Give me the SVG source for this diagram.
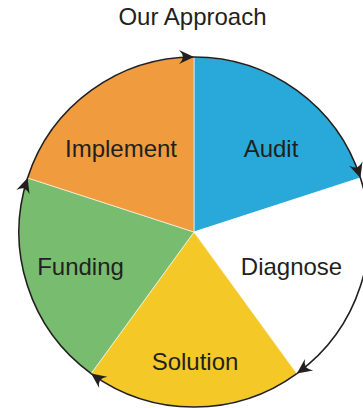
<svg xmlns="http://www.w3.org/2000/svg" width="363" height="408" viewBox="0 0 363 408">
  <style>
    .lbl { font-family: "Liberation Sans", Arial, Helvetica, sans-serif; font-size: 24px; fill: #231f20; text-anchor: middle; }
    .wedge { stroke: #ffffff; stroke-width: 0.6; }
    .ring { fill: none; stroke: #231f20; stroke-width: 1.6; marker-end: url(#arrow); }
  </style>
  <defs>
    <marker id="arrow" markerUnits="userSpaceOnUse" markerWidth="17" markerHeight="15" refX="15" refY="7" orient="auto" overflow="visible">
      <path d="M15,7 L0,0 Q3.5,3.5 4,7 Q3.5,10.5 0,14 Z" fill="#231f20"/>
    </marker>
  </defs>
  <rect x="0" y="0" width="363" height="408" fill="#ffffff"/>
  <text class="lbl" x="192.5" y="25">Our Approach</text>

  <g id="audit">
    <path class="wedge" d="M194,232 L194,57 A175,175 0 0 1 360.435,177.922 Z" fill="#29a9da"/>
    <text class="lbl" x="271" y="157">Audit</text>
  </g>
  <g id="diagnose">
    <path class="wedge" d="M194,232 L360.435,177.922 A175,175 0 0 1 296.862,373.578 Z" fill="#ffffff"/>
    <text class="lbl" x="291.5" y="275">Diagnose</text>
  </g>
  <g id="solution">
    <path class="wedge" d="M194,232 L296.862,373.578 A175,175 0 0 1 91.138,373.578 Z" fill="#f4c927"/>
    <text class="lbl" x="195" y="369.5">Solution</text>
  </g>
  <g id="funding">
    <path class="wedge" d="M194,232 L91.138,373.578 A175,175 0 0 1 27.565,177.922 Z" fill="#77bc6f"/>
    <text class="lbl" x="80.5" y="275">Funding</text>
  </g>
  <g id="implement">
    <path class="wedge" d="M194,232 L27.565,177.922 A175,175 0 0 1 194,57 Z" fill="#f09c3e"/>
    <text class="lbl" x="121" y="157">Implement</text>
  </g>

  <g id="connectors">
    <path class="ring" d="M27.565,177.922 A175,175 0 0 1 194,57"/>
    <path class="ring" d="M194,57 A175,175 0 0 1 360.435,177.922"/>
    <path class="ring" d="M360.435,177.922 A175,175 0 0 1 296.862,373.578"/>
    <path class="ring" d="M296.862,373.578 A175,175 0 0 1 91.138,373.578"/>
    <path class="ring" d="M91.138,373.578 A175,175 0 0 1 27.565,177.922"/>
  </g>
</svg>
